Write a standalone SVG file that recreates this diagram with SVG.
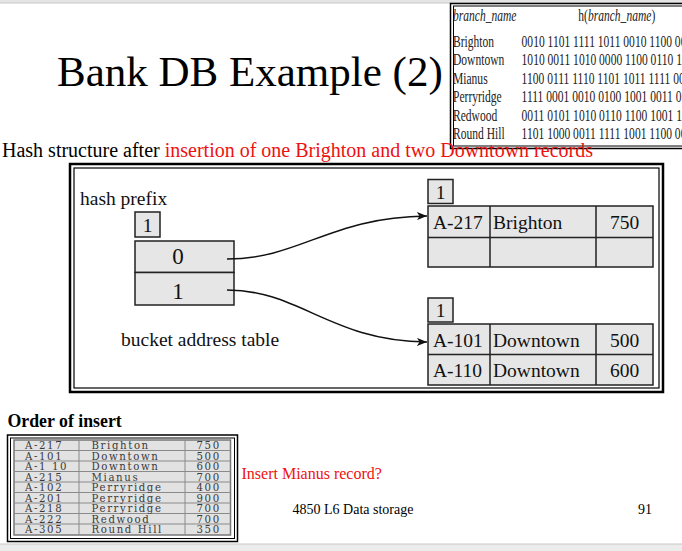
<svg xmlns="http://www.w3.org/2000/svg" width="682" height="551" viewBox="0 0 682 551">
<defs>
<marker id="arr" viewBox="0 0 10 8" refX="10" refY="4" markerWidth="10" markerHeight="8" markerUnits="userSpaceOnUse" orient="auto">
<path d="M0,0 L10,4 L0,8 L2.5,4 Z" fill="#111"/>
</marker>
<style>
.serif{font-family:"Liberation Serif","Times New Roman",serif;}
.cell{fill:#e6e6e6;stroke:#222;stroke-width:1.5;}
.t19{font-size:19.5px;fill:#111;}
.ht{font-size:16.5px;fill:#222;}
.ord{font-family:"DejaVu Serif",serif;font-size:10.2px;fill:#3a3a3a;letter-spacing:1.6px;}
.red{fill:#ee1111;}
.conn{fill:none;stroke:#111;stroke-width:1.5;}
</style>
</defs>
<rect width="682" height="551" fill="#fff"/>
<!-- top and bottom strips -->
<rect x="0" y="0" width="682" height="3" fill="#e4e4e4"/>
<line x1="0" y1="3" x2="682" y2="3" stroke="#c8c8c8" stroke-width="1"/>
<rect x="0" y="544" width="682" height="7" fill="#ececec"/>
<line x1="0" y1="544" x2="682" y2="544" stroke="#c8c8c8" stroke-width="1"/>

<!-- title -->
<text class="serif" x="57" y="86" font-size="43" fill="#000">Bank DB Example (2)</text>

<!-- hash function table (top right) -->
<g id="hash-table">
<rect x="450.5" y="3.5" width="240" height="145" fill="#fff" stroke="#000" stroke-width="1.5"/>
<rect x="453.5" y="6" width="240" height="140" fill="none" stroke="#000" stroke-width="1"/>
<g class="serif ht" transform="translate(453 0) scale(0.7 1)">
<text x="0" y="21" font-style="italic">branch_name</text>
<text x="179" y="21">h(<tspan font-style="italic">branch_name</tspan>)</text>
<text x="0" y="47">Brighton</text>
<text x="0" y="65.5">Downtown</text>
<text x="0" y="84">Mianus</text>
<text x="0" y="102.5">Perryridge</text>
<text x="0" y="121">Redwood</text>
<text x="0" y="139.5">Round Hill</text>
<text x="98" y="47">0010 1101 1111 1011 0010 1100 001</text>
<text x="98" y="65.5">1010 0011 1010 0000 1100 0110 100</text>
<text x="98" y="84">1100 0111 1110 1101 1011 1111 001</text>
<text x="98" y="102.5">1111 0001 0010 0100 1001 0011 011</text>
<text x="98" y="121">0011 0101 1010 0110 1100 1001 111</text>
<text x="98" y="139.5">1101 1000 0011 1111 1001 1100 000</text>
</g>
</g>

<!-- subtitle -->
<text class="serif" x="2" y="157" font-size="20" fill="#000">Hash structure after <tspan class="red">insertion of one Brighton and two Downtown records</tspan></text>

<!-- main frame -->
<g id="frame">
<rect x="70" y="164" width="593" height="228" fill="#fff" stroke="#000" stroke-width="2.5"/>
<rect x="74" y="168" width="585" height="220" fill="none" stroke="#000" stroke-width="1.2"/>
</g>

<g id="bucket-address-table">
<text class="serif t19" x="80" y="205">hash prefix</text>
<rect class="cell" x="135" y="212" width="25" height="25"/>
<text class="serif t19" x="147.5" y="231.5" text-anchor="middle">1</text>
<rect class="cell" x="135" y="241" width="99" height="31.5"/>
<rect class="cell" x="135" y="272.5" width="99" height="32.5"/>
<text class="serif" x="178" y="264" font-size="23" fill="#111" text-anchor="middle">0</text>
<text class="serif" x="178" y="298.5" font-size="23" fill="#111" text-anchor="middle">1</text>
<text class="serif t19" x="121" y="345.5">bucket address table</text>
</g>

<g id="bucket-1">
<rect class="cell" x="428" y="179.5" width="25" height="24"/>
<text class="serif t19" x="440.5" y="198.5" text-anchor="middle">1</text>
<rect class="cell" x="428" y="206" width="225" height="61"/>
<line x1="428" y1="237.5" x2="653" y2="237.5" stroke="#222" stroke-width="1.5"/>
<line x1="490" y1="206" x2="490" y2="267" stroke="#222" stroke-width="1.5"/>
<line x1="596" y1="206" x2="596" y2="267" stroke="#222" stroke-width="1.5"/>
<text class="serif t19" x="433" y="228.5">A-217</text>
<text class="serif t19" x="493" y="228.5">Brighton</text>
<text class="serif t19" x="624.5" y="228.5" text-anchor="middle">750</text>
</g>

<g id="bucket-2">
<rect class="cell" x="428" y="298" width="25" height="24"/>
<text class="serif t19" x="440.5" y="317" text-anchor="middle">1</text>
<rect class="cell" x="428" y="324" width="225" height="61"/>
<line x1="428" y1="354.5" x2="653" y2="354.5" stroke="#222" stroke-width="1.5"/>
<line x1="490" y1="324" x2="490" y2="385" stroke="#222" stroke-width="1.5"/>
<line x1="596" y1="324" x2="596" y2="385" stroke="#222" stroke-width="1.5"/>
<text class="serif t19" x="433" y="346.5">A-101</text>
<text class="serif t19" x="493" y="346.5">Downtown</text>
<text class="serif t19" x="624.5" y="346.5" text-anchor="middle">500</text>
<text class="serif t19" x="433" y="377">A-110</text>
<text class="serif t19" x="493" y="377">Downtown</text>
<text class="serif t19" x="624.5" y="377" text-anchor="middle">600</text>
</g>

<g id="connectors">
<path class="conn" d="M227,259 C300,259 330,217 427,216" marker-end="url(#arr)"/>
<path class="conn" d="M227,290 C300,290 330,341 427,342" marker-end="url(#arr)"/>
</g>

<!-- order of insert -->
<text class="serif" x="7.5" y="426.5" font-size="17.8" font-weight="bold" fill="#000">Order of insert</text>
<g id="order-table">
<rect x="7.5" y="435" width="230" height="106.5" fill="#fff" stroke="#000" stroke-width="1.5"/>
<rect x="10.5" y="438" width="224" height="100.5" fill="none" stroke="#000" stroke-width="1"/>
<rect x="14" y="440" width="216.5" height="95" fill="#e2e2e2" stroke="#777" stroke-width="1.5"/>
<g stroke="#8a8a8a" stroke-width="1">
<line x1="79" y1="440" x2="79" y2="535"/>
<line x1="185" y1="440" x2="185" y2="535"/>
<line x1="14" y1="450.5" x2="230.5" y2="450.5"/>
<line x1="14" y1="461" x2="230.5" y2="461"/>
<line x1="14" y1="471.5" x2="230.5" y2="471.5"/>
<line x1="14" y1="482" x2="230.5" y2="482"/>
<line x1="14" y1="492.5" x2="230.5" y2="492.5"/>
<line x1="14" y1="503" x2="230.5" y2="503"/>
<line x1="14" y1="513.5" x2="230.5" y2="513.5"/>
<line x1="14" y1="524" x2="230.5" y2="524"/>
</g>
<g class="ord">
<text x="25" y="449">A-217</text><text x="91.5" y="449">Brighton</text><text x="196.5" y="449">750</text>
<text x="25" y="459.5">A-101</text><text x="91.5" y="459.5">Downtown</text><text x="196.5" y="459.5">500</text>
<text x="25" y="470">A-1 10</text><text x="91.5" y="470">Downtown</text><text x="196.5" y="470">600</text>
<text x="25" y="480.5">A-215</text><text x="91.5" y="480.5">Mianus</text><text x="196.5" y="480.5">700</text>
<text x="25" y="491">A-102</text><text x="91.5" y="491">Perryridge</text><text x="196.5" y="491">400</text>
<text x="25" y="501.5">A-201</text><text x="91.5" y="501.5">Perryridge</text><text x="196.5" y="501.5">900</text>
<text x="25" y="512">A-218</text><text x="91.5" y="512">Perryridge</text><text x="196.5" y="512">700</text>
<text x="25" y="522.5">A-222</text><text x="91.5" y="522.5">Redwood</text><text x="196.5" y="522.5">700</text>
<text x="25" y="533">A-305</text><text x="91.5" y="533">Round Hill</text><text x="196.5" y="533">350</text>
</g>
</g>

<text class="serif red" x="241.5" y="478.5" font-size="16">Insert Mianus record?</text>
<text class="serif" x="292.5" y="514" font-size="14" fill="#000">4850 L6 Data storage</text>
<text class="serif" x="638" y="514" font-size="14" fill="#000">91</text>
</svg>
